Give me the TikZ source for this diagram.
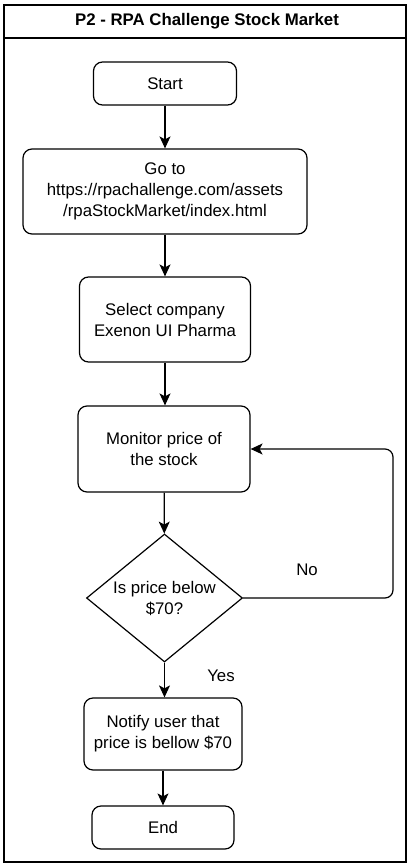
\documentclass[tikz,border=0pt]{standalone}
\usepackage{fontspec}
\setmainfont{Liberation Sans}
\usetikzlibrary{shapes.geometric,arrows.meta}
\begin{document}
\begin{tikzpicture}[x=1pt,y=-1pt,
  every node/.style={font=\fontsize{16.8}{21}\selectfont},
  box/.style={draw, line width=1.2pt, rounded corners=9pt, align=center, inner sep=0pt},
  conn/.style={line width=1.2pt, -{Stealth[length=12pt,width=11pt,inset=3pt]}},
  lbl/.style={inner sep=0pt}]
\useasboundingbox (0,0) rectangle (413,868);
\node[draw, line width=1.5pt, minimum width=402pt, minimum height=857pt, inner sep=0pt] (frame) at (205,433.5) {};
\draw[line width=1.5pt] (frame.west |- 0,38) coordinate (tl) -- (frame.east |- 0,38) coordinate (tr);
\node[lbl, font=\fontsize{16.8}{21}\selectfont\bfseries] (title) at (207,21) {P2 - RPA Challenge Stock Market};
\node[box, minimum width=143pt, minimum height=43pt] (start) at (165,83.5) {Start};
\node[box, minimum width=284pt, minimum height=85pt] (goto) at (165,191.5) {Go to\\https://rpachallenge.com/assets\\/rpaStockMarket/index.html};
\node[box, minimum width=171pt, minimum height=85pt] (sel) at (165,319.5) {Select company\\Exenon UI Pharma};
\node[box, minimum width=172pt, minimum height=86pt] (mon) at (164,449) {Monitor price of\\the stock};
\node[draw, line width=1.2pt, diamond, inner sep=0pt, minimum width=156pt, minimum height=128pt,
  label={[align=center, inner sep=0pt]center:Is price below\\\$70?}] (dec) at (164.5,598) {};
\node[box, minimum width=158pt, minimum height=72pt] (note) at (163,734) {Notify user that\\price is bellow \$70};
\node[box, minimum width=142pt, minimum height=43pt] (end) at (163,827.5) {End};
\node[lbl] (no) at (307,570) {No};
\node[lbl] (yes) at (221,676) {Yes};
\coordinate (lp) at (393,0);
\draw[conn] (start) -- (goto);
\draw[conn] (goto) -- (sel);
\draw[conn] (sel.south) -- (mon.north -| sel.south);
\draw[conn] (mon) -- (dec);
\draw[conn] (dec.south) -- (note.north -| dec.south);
\draw[conn] (note) -- (end);
\draw[conn, rounded corners=8pt] (dec.east) -- (dec.east -| lp) -- (mon.east -| lp) -- (mon.east);
\end{tikzpicture}
\end{document}
